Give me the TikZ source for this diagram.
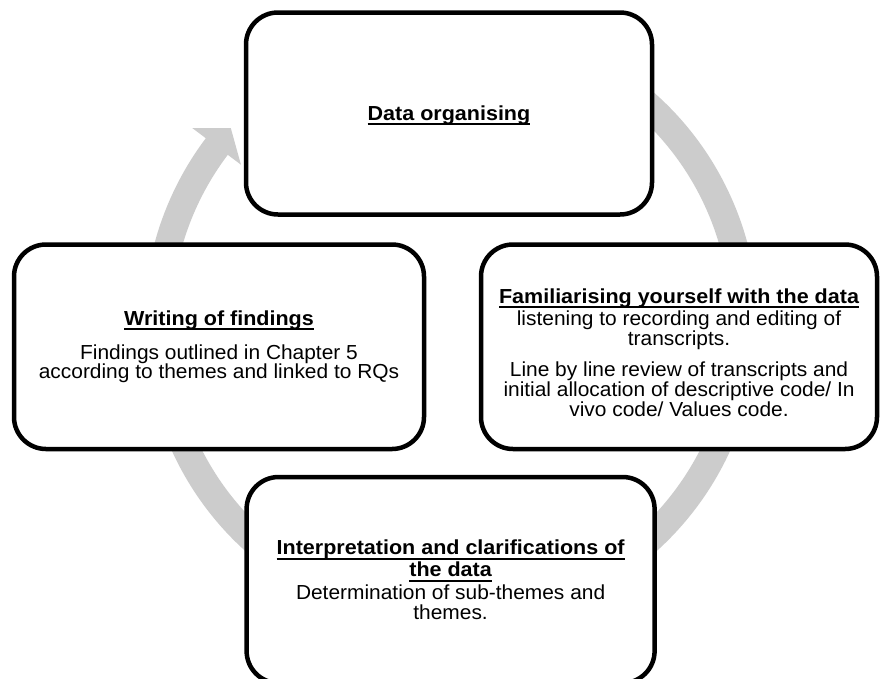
\documentclass[tikz,border=0pt]{standalone}
\usepackage{fontspec}
\setmainfont{Liberation Sans}[FakeStretch=1.03, BoldFeatures={FakeStretch=1.06}]
\definecolor{ringgrey}{RGB}{204,204,204}
\newcommand\ulin[1]{\setbox0=\hbox{#1}\rlap{\rule[-4.8pt]{\wd0}{2pt}}\box0}
\begin{document}
\begin{tikzpicture}[x=1pt,y=-1pt,
  stage/.style={draw=black, line width=4.5pt, rounded corners=32pt, fill=white,
    inner sep=0pt, align=center, font=\fontsize{20.3}{18.5}\selectfont}]
\useasboundingbox (0,0) rectangle (880,678);
\clip (0,0) rectangle (880,678);
\fill[white] (0,0) rectangle (880,678);
% circular arrow behind the boxes
\begin{scope}[shift={(451,323)}]
  \fill[ringgrey] (-143:279.5) arc[start angle=-143, end angle=-473, radius=279.5]
    -- (-473:307) arc[start angle=-473, end angle=-143, radius=307]
    -- (-143:324) -- (-138.5:294) -- (-143:263) -- cycle;
\end{scope}
% boxes
\node[stage, minimum width=406pt, minimum height=202pt] (org) at (449,113.5)
  {\rule{0pt}{19pt}\textbf{\ulin{Data organising}}};
\node[stage, minimum width=396pt, minimum height=204.5pt] (fam) at (679,346.75)
  {\rule{0pt}{27pt}\textbf{\ulin{Familiarising yourself with the data}}\\[1.5pt]
   listening to recording and editing of\\
   transcripts.\\[11.5pt]
   Line by line review of transcripts and\\
   initial allocation of descriptive code/ In\\
   vivo code/ Values code.};
\node[stage, minimum width=410pt, minimum height=204.5pt] (wri) at (219,346.75)
  {\textbf{\ulin{Writing of findings}}\\[13.5pt]
   Findings outlined in Chapter 5\\
   according to themes and linked to RQs};
\node[stage, minimum width=408pt, minimum height=206pt] (int) at (450.6,580)
  {\textbf{\ulin{Interpretation and clarifications of}}\\[1.5pt]
   \textbf{\ulin{the data}}\\[2pt]
   Determination of sub-themes and\\[2pt]
   themes.};
\end{tikzpicture}
\end{document}
